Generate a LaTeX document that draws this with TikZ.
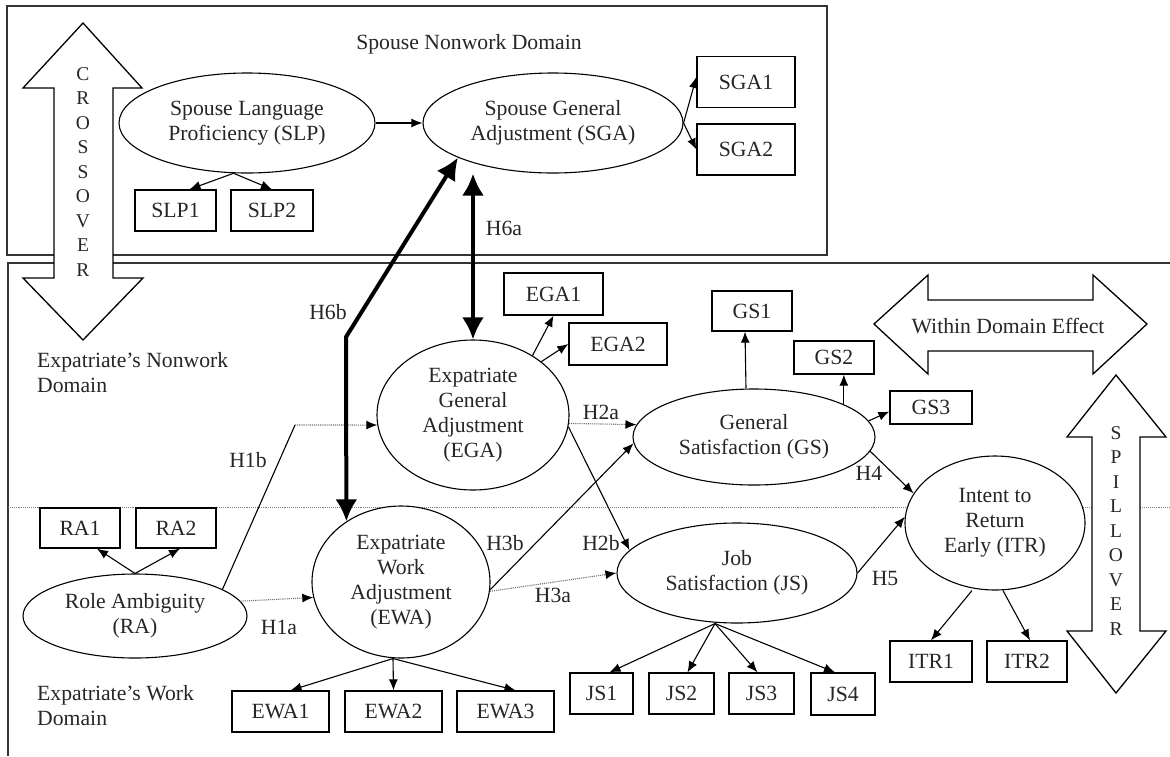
\documentclass[tikz,border=0pt]{standalone}
\usepackage{fontspec}
\setmainfont{Liberation Serif}
\usetikzlibrary{arrows.meta,shapes.geometric,calc}
\begin{document}
\begin{tikzpicture}[x=1pt,y=-1pt,
  every node/.style={font=\fontsize{21.7}{25}\selectfont,text=black!85},
  ell/.style={draw,ellipse,fill=white,inner sep=0pt,align=center,line width=1.1pt},
  box/.style={draw,rectangle,fill=white,inner sep=0pt,line width=1.3pt},
  arr/.style={-{Latex[length=11pt,width=9pt]},line width=1.1pt},
  darr/.style={-{Latex[length=11pt,width=9pt,color=black]},line width=1.1pt,densely dotted,draw=black!55},
  big/.style={{Latex[length=22pt,width=22pt]}-{Latex[length=22pt,width=22pt]},line width=4pt},
  lbl/.style={inner sep=0pt},
  fat/.style={draw,fill=white,line width=1.3pt,line join=miter},
  frame/.style={draw,line width=1.3pt,black!80},
  letters/.style={align=center,inner sep=0pt,font=\fontsize{19.5}{24.5}\selectfont}
]
\useasboundingbox (0,0) rectangle (1170,756);
\fill[white] (0,0) rectangle (1170,756);

% domain frames
\draw[frame] (7,6) rectangle (827,255);
\draw[frame] (1170,263) -- (8,263) -- (8,756);
\draw[densely dotted,black!50,line width=0.9pt] (8,507) -- (1170,507);

% big block arrows
\draw[fat] (83,23) -- (142,88) -- (113,88) -- (113,278) -- (143,278) -- (83,340)
  -- (23,278) -- (54,278) -- (54,88) -- (23,88) -- cycle;
\node[letters] (cross) at (83,172) {C\\R\\O\\S\\S\\O\\V\\E\\R};
\draw[fat] (1116,375) -- (1166,437) -- (1140,437) -- (1140,631) -- (1166,631) -- (1116,693)
  -- (1067,631) -- (1092,631) -- (1092,437) -- (1067,437) -- cycle;
\node[letters] (spill) at (1116,531) {S\\P\\I\\L\\L\\O\\V\\E\\R};
\draw[fat] (874,324) -- (928,275) -- (928,300) -- (1093,300) -- (1093,275) -- (1147,324)
  -- (1093,374) -- (1093,351) -- (928,351) -- (928,374) -- cycle;
\node[lbl] (within) at (1008,326) {Within Domain Effect};

% domain titles
\node[lbl] (spdom) at (469,44) {Spouse Nonwork Domain};
\node[lbl,anchor=west,align=left] (nwdom) at (37,372.5) {Expatriate’s Nonwork\\Domain};
\node[lbl,anchor=west,align=left] (wkdom) at (37,705.5) {Expatriate’s Work\\Domain};

% latent variables
\node[ell,minimum width=256pt,minimum height=100pt] (SLP) at (247,123) {Spouse Language\\Proficiency (SLP)};
\node[ell,minimum width=260pt,minimum height=100pt] (SGA) at (553,123) {Spouse General\\Adjustment (SGA)};
\node[ell,minimum width=192pt,minimum height=150pt] (EGA) at (473,415) {Expatriate\\General\\Adjustment\\(EGA)};
\node[ell,minimum width=242pt,minimum height=96pt] (GS) at (754,437) {General\\Satisfaction (GS)};
\node[ell,minimum width=178pt,minimum height=152pt] (EWA) at (401,582) {Expatriate\\Work\\Adjustment\\(EWA)};
\node[ell,minimum width=224pt,minimum height=84pt] (RA) at (135,616) {Role Ambiguity\\(RA)};
\node[ell,minimum width=240pt,minimum height=100pt] (JS) at (737,573) {Job\\Satisfaction (JS)};
\node[ell,minimum width=180pt,minimum height=134pt] (ITR) at (995,523) {Intent to\\Return\\Early (ITR)};

% indicators
\node[box,minimum width=81pt,minimum height=41pt] (SLP1) at (175.5,210.5) {SLP1};
\node[box,minimum width=82pt,minimum height=41pt] (SLP2) at (272,210.5) {SLP2};
\node[box,minimum width=98pt,minimum height=51pt] (SGA1) at (746,82) {SGA1};
\node[box,minimum width=98pt,minimum height=51pt] (SGA2) at (746,149.5) {SGA2};
\node[box,minimum width=99pt,minimum height=42pt] (EGA1) at (553.5,294) {EGA1};
\node[box,minimum width=98pt,minimum height=42pt] (EGA2) at (618,344) {EGA2};
\node[box,minimum width=80pt,minimum height=40pt] (GS1) at (752,311) {GS1};
\node[box,minimum width=80pt,minimum height=33pt] (GS2) at (834,357.5) {GS2};
\node[box,minimum width=82pt,minimum height=33pt] (GS3) at (931,407.5) {GS3};
\node[box,minimum width=80pt,minimum height=40pt] (RA1) at (80,528) {RA1};
\node[box,minimum width=80pt,minimum height=40pt] (RA2) at (176,528) {RA2};
\node[box,minimum width=97pt,minimum height=41pt] (EWA1) at (280.5,711.5) {EWA1};
\node[box,minimum width=97pt,minimum height=41pt] (EWA2) at (393.5,711.5) {EWA2};
\node[box,minimum width=97pt,minimum height=41pt] (EWA3) at (505.5,711.5) {EWA3};
\node[box,minimum width=63pt,minimum height=41pt] (JS1) at (601.5,693.5) {JS1};
\node[box,minimum width=65pt,minimum height=41pt] (JS2) at (681.5,693.5) {JS2};
\node[box,minimum width=65pt,minimum height=41pt] (JS3) at (761.5,693.5) {JS3};
\node[box,minimum width=64pt,minimum height=42pt] (JS4) at (843,694) {JS4};
\node[box,minimum width=82pt,minimum height=41pt] (ITR1) at (931,661.5) {ITR1};
\node[box,minimum width=80pt,minimum height=41pt] (ITR2) at (1027,661.5) {ITR2};

% measurement arrows
\draw[arr] (SLP.255) -- ([xshift=14pt]SLP1.north);
\draw[arr] (SLP.255) -- (SLP2.north);
\draw[arr] (SGA.east) -- ([yshift=5pt]SGA1.west);
\draw[arr] (SGA.east) -- (SGA2.west);
\draw[arr] (EGA.45) -- (EGA1.south);
\draw[arr] (EGA.38) -- (EGA2.west);
\draw[arr] ([xshift=-8pt]GS.north) -- ([xshift=-7pt]GS1.south);
\draw[arr] (GS.20.6) -- (GS.20.6 |- GS2.south);
\draw[arr] (GS.8) -- ([yshift=-4pt]GS3.west);
\draw[arr] (RA.north) -- ([xshift=17pt]RA1.south);
\draw[arr] (RA.north) -- ([xshift=4pt]RA2.south);
\draw[arr] ([xshift=-8pt]EWA.south) -- ([xshift=10pt]EWA1.north);
\draw[arr] ([xshift=-8pt]EWA.south) -- (EWA2.north);
\draw[arr] ([xshift=-8pt]EWA.south) -- ([xshift=10pt]EWA3.north);
\draw[arr] ([xshift=-22pt]JS.south) -- ([xshift=8pt]JS1.north);
\draw[arr] ([xshift=-22pt]JS.south) -- ([xshift=6pt]JS2.north);
\draw[arr] ([xshift=-22pt]JS.south) -- ([xshift=-4pt]JS3.north);
\draw[arr] ([xshift=-22pt]JS.south) -- ([xshift=-8pt]JS4.north);
\draw[arr] ([xshift=-23pt]ITR.south) -- (ITR1.north);
\draw[arr] ([xshift=8pt]ITR.south) -- ([xshift=3pt]ITR2.north);

% structural paths
\draw[arr] (SLP.east) -- (SGA.west);
\coordinate (h1bbend) at (295,425);
\draw[line width=1.1pt] (RA.17) -- (h1bbend);
\draw[darr] (h1bbend) -- (EGA.186);
\draw[darr] (RA.8) -- (EWA.190);
\draw[darr] (EGA.355) -- (GS.174);
\draw[arr] (EGA.353) -- (JS.168);
\draw[arr] (EWA.355) -- (GS.183);
\draw[darr] (EWA.354) -- (JS.west);
\draw[arr] (GS.353) -- (ITR.160);
\draw[arr] (JS.east) -- (ITR.176);

% crossover paths
\draw[big] (EGA.north) -- (EGA.north |- SGA.south);
\coordinate (h6bbend) at (346,337);
\draw[big,line join=round] (SGA.200) -- (h6bbend) -- (EWA.132);

% path labels
\node[lbl] (lH6a) at (504,228) {H6a};
\node[lbl] (lH6b) at (328,312) {H6b};
\node[lbl] (lH1b) at (248,460) {H1b};
\node[lbl] (lH1a) at (279,627) {H1a};
\node[lbl] (lH2a) at (601,412) {H2a};
\node[lbl] (lH2b) at (601,543) {H2b};
\node[lbl] (lH3b) at (505,543) {H3b};
\node[lbl] (lH3a) at (553,595) {H3a};
\node[lbl] (lH4) at (869,473) {H4};
\node[lbl] (lH5) at (885,578) {H5};
\end{tikzpicture}
\end{document}
